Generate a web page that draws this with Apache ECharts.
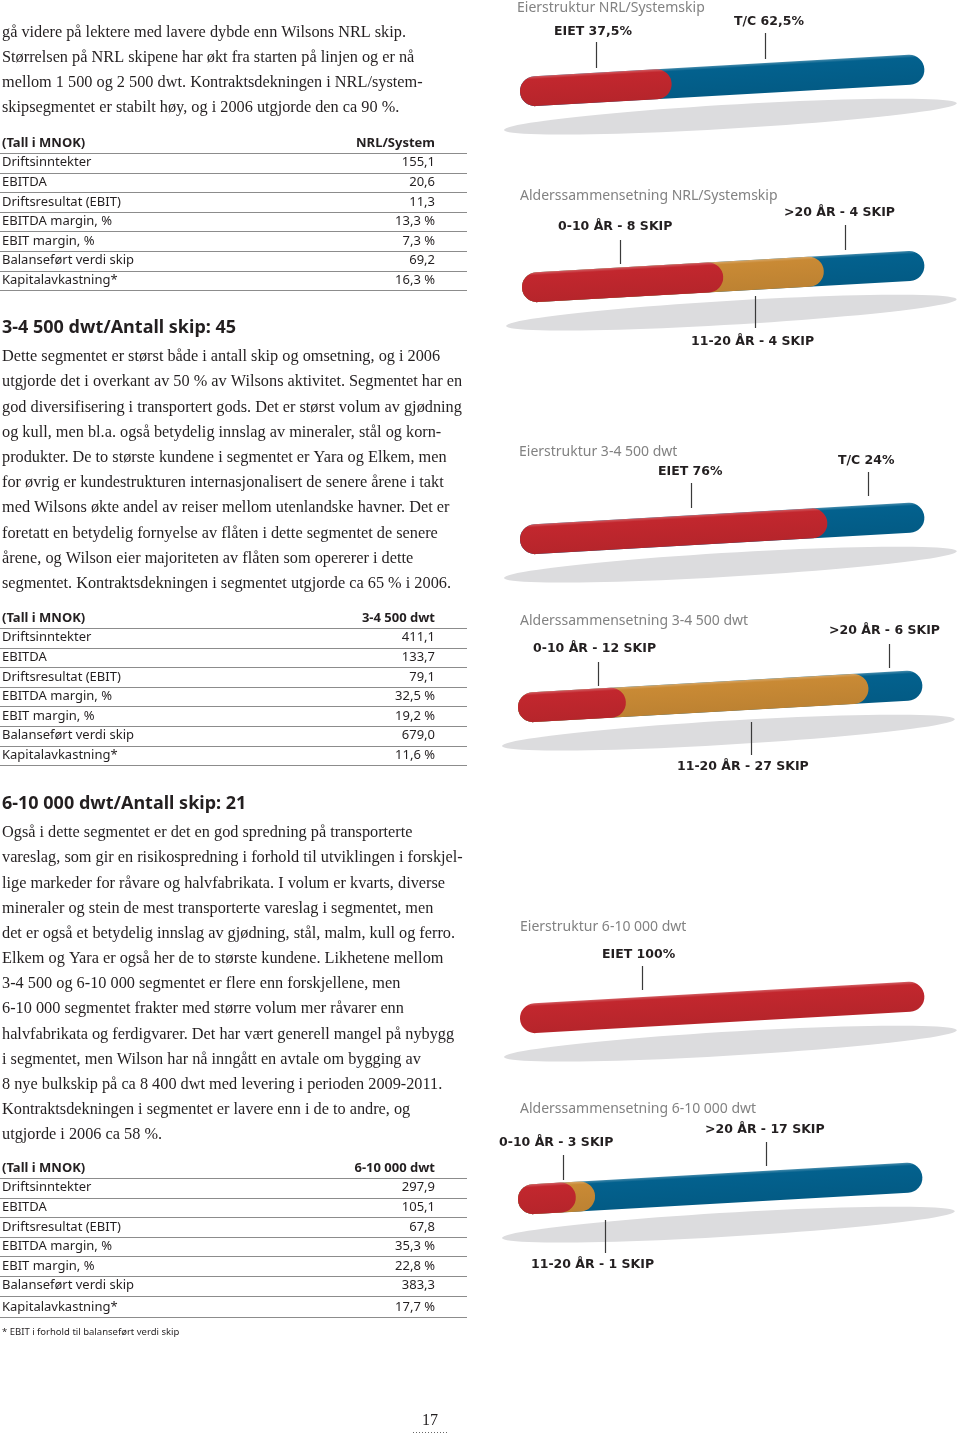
<!DOCTYPE html>
<html><head><meta charset="utf-8">
<script src="https://cdn.jsdelivr.net/npm/echarts@6/dist/echarts.min.js"></script>
<style>html,body{margin:0;padding:0;background:#fff}#main{width:960px;height:1436px}</style>
</head><body><div id="main"></div>
<script>
// ---------------- DATA ----------------
const ownershipCategories = ['EIET', 'T/C'];
const nrlOwnership = [37.5, 62.5];
const dwt3Ownership = [76, 24];
const dwt6OwnershipCategories = ['EIET'];
const dwt6Ownership = [100];
const ageCategories = ['0-10 ÅR', '11-20 ÅR', '>20 ÅR'];
const nrlAge = [8, 4, 4];
const dwt3Age = [12, 27, 6];
const dwt6Age = [3, 1, 17];

const chartTitles = ['Eierstruktur NRL/Systemskip', 'Alderssammensetning NRL/Systemskip',
  'Eierstruktur 3-4 500 dwt', 'Alderssammensetning 3-4 500 dwt',
  'Eierstruktur 6-10 000 dwt', 'Alderssammensetning 6-10 000 dwt'];

const tableRowLabels = ['Driftsinntekter', 'EBITDA', 'Driftsresultat (EBIT)', 'EBITDA margin, %',
  'EBIT margin, %', 'Balanseført verdi skip', 'Kapitalavkastning*'];
const tableHeaders = ['NRL/System', '3-4 500 dwt', '6-10 000 dwt'];
const nrlTable = ['155,1', '20,6', '11,3', '13,3 %', '7,3 %', '69,2', '16,3 %'];
const dwt3Table = ['411,1', '133,7', '79,1', '32,5 %', '19,2 %', '679,0', '11,6 %'];
const dwt6Table = ['297,9', '105,1', '67,8', '35,3 %', '22,8 %', '383,3', '17,7 %'];

const introLines = [
  'gå videre på lektere med lavere dybde enn Wilsons NRL skip.',
  'Størrelsen på NRL skipene har økt fra starten på linjen og er nå',
  'mellom 1 500 og 2 500 dwt. Kontraktsdekningen i NRL/system-',
  'skipsegmentet er stabilt høy, og i 2006 utgjorde den ca 90 %.'
];
const heading2 = '3-4 500 dwt/Antall skip: 45';
const para2Lines = [
  'Dette segmentet er størst både i antall skip og omsetning, og i 2006',
  'utgjorde det i overkant av 50 % av Wilsons aktivitet. Segmentet har en',
  'god diversifisering i transportert gods. Det er størst volum av gjødning',
  'og kull, men bl.a. også betydelig innslag av mineraler, stål og korn-',
  'produkter. De to største kundene i segmentet er Yara og Elkem, men',
  'for øvrig er kundestrukturen internasjonalisert de senere årene i takt',
  'med Wilsons økte andel av reiser mellom utenlandske havner. Det er',
  'foretatt en betydelig fornyelse av flåten i dette segmentet de senere',
  'årene, og Wilson eier majoriteten av flåten som opererer i dette',
  'segmentet. Kontraktsdekningen i segmentet utgjorde ca 65 % i 2006.'
];
const heading3 = '6-10 000 dwt/Antall skip: 21';
const para3Lines = [
  'Også i dette segmentet er det en god spredning på transporterte',
  'vareslag, som gir en risikospredning i forhold til utviklingen i forskjel-',
  'lige markeder for råvare og halvfabrikata. I volum er kvarts, diverse',
  'mineraler og stein de mest transporterte vareslag i segmentet, men',
  'det er også et betydelig innslag av gjødning, stål, malm, kull og ferro.',
  'Elkem og Yara er også her de to største kundene. Likhetene mellom',
  '3-4 500 og 6-10 000 segmentet er flere enn forskjellene, men',
  '6-10 000 segmentet frakter med større volum mer råvarer enn',
  'halvfabrikata og ferdigvarer. Det har vært generell mangel på nybygg',
  'i segmentet, men Wilson har nå inngått en avtale om bygging av',
  '8 nye bulkskip på ca 8 400 dwt med levering i perioden 2009-2011.',
  'Kontraktsdekningen i segmentet er lavere enn i de to andre, og',
  'utgjorde i 2006 ca 58 %.'
];
const footnote = '* EBIT i forhold til balanseført verdi skip';
const pageNumber = '17';

// ---------------- STYLE / LAYOUT ----------------
const RED = '#c2272e', BLUE = '#03618e', OCHRE = '#c98a35', SHADOW = '#dcdcde';
const INK = '#231f20', GREY_TITLE = '#828282', RULE = '#8c8c8c';
const SERIF = '16.3px "Liberation Serif", "DejaVu Serif", serif';
const SANS = '13px "Noto Sans", "Open Sans", sans-serif';
const SANS_B = 'bold 13px "Noto Sans", "Open Sans", sans-serif';
const HEAD = 'bold 18px "Noto Sans", "Open Sans", sans-serif';
const TITLE = '14px "Noto Sans", "Open Sans", sans-serif';
const LABEL = 'bold 12.5px "DejaVu Sans", sans-serif';
const TILT = Math.atan2(23, 404);
const BAR_H = 30;

const chartDefs = [
  { cats: ownershipCategories, values: nrlOwnership, kind: 'own', colors: [RED, BLUE] },
  { cats: ageCategories, values: nrlAge, kind: 'age', colors: [RED, OCHRE, BLUE] },
  { cats: ownershipCategories, values: dwt3Ownership, kind: 'own', colors: [RED, BLUE] },
  { cats: ageCategories, values: dwt3Age, kind: 'age', colors: [RED, OCHRE, BLUE] },
  { cats: dwt6OwnershipCategories, values: dwt6Ownership, kind: 'own', colors: [RED] },
  { cats: ageCategories, values: dwt6Age, kind: 'age', colors: [RED, OCHRE, BLUE] }
];
const chartLayout = [
  { left: 520, width: 405, yc: 92, tx: 517, ty: 8,
    labels: [[554, 32, 596, 42, 68], [734, 22, 765, 33, 59]] },
  { left: 522, width: 403, yc: 288, tx: 520, ty: 196,
    labels: [[558, 227, 620, 240, 264], [691, 342, 755, 296, 328], [784, 213, 845, 225, 250]] },
  { left: 520, width: 405, yc: 540, tx: 519, ty: 452,
    labels: [[658, 472, 691, 483, 508], [838, 461, 868, 472, 496]] },
  { left: 518, width: 405, yc: 708, tx: 520, ty: 621,
    labels: [[533, 649, 598, 662, 686], [677, 767, 751, 722, 755], [829, 631, 889, 644, 668]] },
  { left: 520, width: 405, yc: 1019, tx: 520, ty: 927,
    labels: [[602, 955, 642, 966, 990]] },
  { left: 518, width: 405, yc: 1200, tx: 520, ty: 1109,
    labels: [[499, 1143, 563, 1155, 1180], [531, 1265, 605, 1220, 1253], [705, 1130, 766, 1142, 1166]] }
];

function fmtNum(v) { return String(v).replace('.', ','); }
function labelText(def, i) {
  return def.kind === 'own' ? def.cats[i] + ' ' + fmtNum(def.values[i]) + '%'
                            : def.cats[i] + ' - ' + def.values[i] + ' SKIP';
}
function shade(hex, f) {
  const n = parseInt(hex.slice(1), 16);
  let r = n >> 16, g = (n >> 8) & 255, b = n & 255;
  const m = c => Math.max(0, Math.min(255, Math.round(f > 0 ? c + (255 - c) * f : c * (1 + f))));
  return 'rgb(' + m(r) + ',' + m(g) + ',' + m(b) + ')';
}

// ---------------- GRAPHIC TEXT ----------------
const graphics = [];
function txt(x, y, text, font, fill, align) {
  graphics.push({ type: 'text', x: x, y: y, silent: true, z: 10,
    style: { text: text, font: font, fill: fill, textAlign: align || 'left', textVerticalAlign: 'middle' } });
}
function rule(x1, y, x2, color, dash) {
  graphics.push({ type: 'line', silent: true, z: 5,
    shape: { x1: x1, y1: y, x2: x2, y2: y },
    style: { stroke: color, lineWidth: 1, lineDash: dash || null } });
}
function vline(x, y1, y2) {
  graphics.push({ type: 'line', silent: true, z: 5,
    shape: { x1: x, y1: y1, x2: x, y2: y2 }, style: { stroke: '#3a3a3a', lineWidth: 1.2 } });
}

introLines.forEach((l, i) => txt(2, 33 + i * 25, l, SERIF, INK));
txt(2, 327.5, heading2, HEAD, INK);
para2Lines.forEach((l, i) => txt(2, 357 + i * 25.2, l, SERIF, INK));
txt(2, 803.5, heading3, HEAD, INK);
para3Lines.forEach((l, i) => txt(2, 833 + i * 25.17, l, SERIF, INK));

function table(headerY, header, values, lastExtra) {
  txt(2, headerY, '(Tall i MNOK)', SANS_B, INK);
  txt(435, headerY, header, SANS_B, INK, 'right');
  rule(0, Math.round(headerY + 10) + 0.5, 467, RULE);
  tableRowLabels.forEach((lab, i) => {
    const y = headerY + 19.6 * (i + 1) + (i === tableRowLabels.length - 1 ? lastExtra : 0);
    txt(2, y, lab, SANS, INK);
    txt(435, y, values[i], SANS, INK, 'right');
    rule(0, Math.round(y + 10) + 0.5, 467, RULE);
  });
}
table(143, tableHeaders[0], nrlTable, 0);
table(618, tableHeaders[1], dwt3Table, 0);
table(1168, tableHeaders[2], dwt6Table, 2);
txt(2, 1332, footnote, '9.5px "Noto Sans", sans-serif', INK);
txt(430, 1421, pageNumber, '16px "Liberation Serif", serif', INK, 'center');
rule(413, 1432.5, 447, '#666', [1, 2]);

chartDefs.forEach((def, ci) => {
  const lay = chartLayout[ci];
  txt(lay.tx, lay.ty, chartTitles[ci], TITLE, GREY_TITLE);
  def.cats.forEach((c, i) => {
    const L = lay.labels[i];
    txt(L[0], L[1], labelText(def, i), LABEL, INK);
    vline(L[2] + 0.5, L[3], L[4]);
  });
});

// ---------------- SERIES ----------------
const grids = [], xAxes = [], yAxes = [], series = [];
chartDefs.forEach((def, ci) => {
  const lay = chartLayout[ci];
  const total = def.values.reduce((a, b) => a + b, 0);
  grids.push({ left: lay.left, width: lay.width, top: lay.yc - BAR_H / 2, height: BAR_H });
  xAxes.push({ gridIndex: ci, type: 'value', min: 0, max: total, show: false });
  yAxes.push({ gridIndex: ci, type: 'category', data: ['bar'], show: false });

  // ground shadow
  series.push({
    type: 'custom', xAxisIndex: ci, yAxisIndex: ci, z: 1, silent: true,
    data: [[total, 0]],
    renderItem: function (params, api) {
      const s = api.coord([0, 0]);
      const e = api.coord([api.value(0), 0]);
      const len = e[0] - s[0];
      const cx = len * 0.515, cy = 37, a = len * 0.56, b = 12;
      const pts = [];
      for (let k = 0; k <= 90; k++) {
        const t = k / 90 * Math.PI * 2;
        pts.push([cx + a * Math.cos(t), cy + b * Math.sin(t)]);
      }
      return { type: 'group', x: s[0], y: s[1], rotation: TILT * 1.04,
        children: [{ type: 'polygon', shape: { points: pts }, style: { fill: SHADOW } }] };
    }
  });

  // stacked capsules, drawn from the last segment to the first
  let cum = 0;
  const segs = def.values.map((v, i) => { cum += v; return [cum, 0, i]; }).reverse();
  series.push({
    type: 'custom', xAxisIndex: ci, yAxisIndex: ci, z: 2, silent: true,
    data: segs,
    renderItem: function (params, api) {
      const s = api.coord([0, 0]);
      const e = api.coord([api.value(0), 0]);
      const base = def.colors[api.value(2)];
      return { type: 'group', x: s[0], y: s[1], rotation: TILT,
        children: [{ type: 'rect',
          shape: { x: 0, y: -BAR_H / 2, width: e[0] - s[0], height: BAR_H, r: BAR_H / 2 },
          style: { fill: { type: 'linear', x: 0, y: 0, x2: 0, y2: 1, colorStops: [
            { offset: 0, color: shade(base, 0.25) }, { offset: 0.1, color: base },
            { offset: 1, color: shade(base, -0.06) }] } } }] };
    }
  });
});

const chart = echarts.init(document.getElementById('main'), null, { renderer: 'canvas' });
chart.setOption({
  animation: false,
  backgroundColor: '#ffffff',
  grid: grids, xAxis: xAxes, yAxis: yAxes, series: series,
  graphic: { elements: graphics }
});
</script></body></html>
